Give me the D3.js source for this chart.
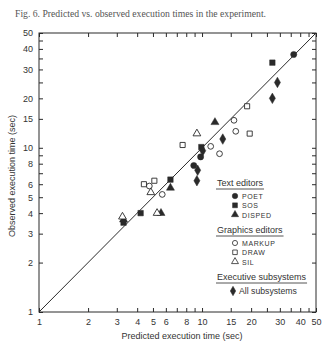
<!DOCTYPE html>
<html>
<head>
<meta charset="utf-8">
<script src="https://cdn.jsdelivr.net/npm/d3@7"></script>
<style>
  body { margin: 0; background: #fff; }
  svg text { fill: #333; }
</style>
</head>
<body>
<div id="chart"></div>
<script>
// readings, [predicted, observed] in seconds
const poet = [[36.5, 37], [8.9, 7.8], [9.8, 8.8]];
const sos = [[27, 33], [9.9, 10.1], [6.4, 6.4], [4.2, 4.0], [3.3, 3.5]];
const disped = [[12, 14.3], [6.4, 5.7], [5.6, 4.0], [3.3, 3.65]];
const markup = [[15.7, 14.7], [16.1, 12.6], [11.3, 10.2], [12.8, 9.2], [5.7, 5.2], [4.75, 5.85]];
const draw = [[18.9, 17.9], [19.6, 12.2], [7.6, 10.4], [4.4, 6.0], [5.1, 6.3]];
const sil = [[9.3, 12.2], [4.85, 5.35], [5.3, 4.0], [3.25, 3.8]];
const allSubsystems = [[29, 25], [27, 20], [13.4, 11.3], [10.1, 9.6], [9.4, 7.3], [9.3, 6.3]];

const tickLabels = [1, 2, 3, 4, 5, 6, 8, 10, 15, 20, 30, 40, 50];
const tickMarks = [1, 2, 3, 4, 5, 6, 7, 8, 9, 10, 15, 20, 25, 30, 35, 40, 45, 50];

const W = 323, H = 344;
const svg = d3.select('#chart').append('svg').attr('width', W).attr('height', H);

const x = d3.scaleLog().domain([1, 50]).range([39, 316]);
const y = d3.scaleLog().domain([1, 50]).range([312, 33]);

const ink = '#2a2a2a';

// title
svg.append('text')
  .attr('x', 15).attr('y', 17)
  .style('font-family', '"Liberation Serif", serif')
  .style('font-size', '9.7px')
  .style('fill', '#555')
  .text('Fig. 6.  Predicted vs. observed execution times in the experiment.');

// frame
svg.append('rect')
  .attr('x', x(1)).attr('y', y(50))
  .attr('width', x(50) - x(1)).attr('height', y(1) - y(50))
  .attr('fill', 'none').attr('stroke', ink).attr('stroke-width', 1);

// axes (ticks inward, labels only where the figure has them)
const fmt = d => (tickLabels.includes(d) ? d : '');
const axB = d3.axisBottom(x).tickValues(tickMarks).tickSize(-4).tickPadding(7).tickFormat(fmt);
const axT = d3.axisTop(x).tickValues(tickMarks).tickSize(-4).tickFormat('');
const axL = d3.axisLeft(y).tickValues(tickMarks).tickSize(-4).tickPadding(6).tickFormat(fmt);
const axR = d3.axisRight(y).tickValues(tickMarks).tickSize(-4).tickFormat('');

function styleAxis(g) {
  g.select('.domain').remove();
  g.selectAll('line').attr('stroke', ink);
  g.selectAll('text')
    .style('font-family', '"Liberation Sans", Arial, sans-serif')
    .style('font-size', '9px')
    .attr('fill', '#333');
}
svg.append('g').attr('transform', `translate(0,${y(1)})`).call(axB).call(styleAxis);
svg.append('g').attr('transform', `translate(0,${y(50)})`).call(axT).call(styleAxis);
svg.append('g').attr('transform', `translate(${x(1)},0)`).call(axL).call(styleAxis);
svg.append('g').attr('transform', `translate(${x(50)},0)`).call(axR).call(styleAxis);

// axis titles
svg.append('text')
  .attr('x', 182).attr('y', 339)
  .attr('text-anchor', 'middle')
  .style('font-family', '"Liberation Sans", Arial, sans-serif')
  .style('font-size', '9px')
  .text('Predicted execution time (sec)');
svg.append('text')
  .attr('transform', 'translate(15,176) rotate(-90)')
  .attr('text-anchor', 'middle')
  .style('font-family', '"Liberation Sans", Arial, sans-serif')
  .style('font-size', '9px')
  .text('Observed execution time (sec)');

// diagonal y = x
svg.append('line')
  .attr('x1', x(1)).attr('y1', y(1))
  .attr('x2', x(50)).attr('y2', y(50))
  .attr('stroke', ink).attr('stroke-width', 1);

const series = [
  { name: 'POET', data: poet, type: d3.symbolCircle, size: 30, filled: true },
  { name: 'SOS', data: sos, type: d3.symbolSquare, size: 30, filled: true },
  { name: 'DISPED', data: disped, type: d3.symbolTriangle, size: 28, filled: true },
  { name: 'MARKUP', data: markup, type: d3.symbolCircle, size: 26, filled: false },
  { name: 'DRAW', data: draw, type: d3.symbolSquare, size: 26, filled: false },
  { name: 'SIL', data: sil, type: d3.symbolTriangle, size: 26, filled: false },
  { name: 'All subsystems', data: allSubsystems, type: d3.symbolDiamond, size: 32, filled: true },
];

const pts = svg.append('g');
series.forEach(s => {
  pts.selectAll(null)
    .data(s.data)
    .enter()
    .append('path')
    .attr('transform', d => `translate(${x(d[0])},${y(d[1])})`)
    .attr('d', d3.symbol().type(s.type).size(s.size))
    .attr('fill', s.filled ? ink : '#fff')
    .attr('stroke', ink)
    .attr('stroke-width', s.filled ? 0.5 : 0.9);
});

// legend
const groups = [
  { title: 'Text editors', y: 183, items: series.slice(0, 3) },
  { title: 'Graphics editors', y: 230, items: series.slice(3, 6) },
  { title: 'Executive subsystems', y: 277, items: series.slice(6) },
];
const legend = svg.append('g').style('font-family', '"Liberation Sans", Arial, sans-serif');
groups.forEach(gr => {
  const t = legend.append('text')
    .attr('x', 217).attr('y', gr.y + 3)
    .style('font-size', '9px')
    .text(gr.title);
  const tw = t.node().getComputedTextLength();
  legend.append('line')
    .attr('x1', 216).attr('x2', 218 + tw)
    .attr('y1', gr.y + 6).attr('y2', gr.y + 6)
    .attr('stroke', ink).attr('stroke-width', 0.8);
  gr.items.forEach((s, i) => {
    const last = gr.items.length === 1;
    const cy = last ? gr.y + 14 : gr.y + 13 + i * 9.3;
    legend.append('path')
      .attr('transform', `translate(${last ? 233 : 235},${cy})`)
      .attr('d', d3.symbol().type(s.type).size(s.size * 0.8))
      .attr('fill', s.filled ? ink : '#fff')
      .attr('stroke', ink)
      .attr('stroke-width', s.filled ? 0.5 : 0.8);
    legend.append('text')
      .attr('x', last ? 239 : 242).attr('y', cy + 3)
      .style('font-size', last ? '8.7px' : '7px')
      .style('letter-spacing', last ? '0px' : '0.6px')
      .text(s.name);
  });
});
</script>
</body>
</html>
